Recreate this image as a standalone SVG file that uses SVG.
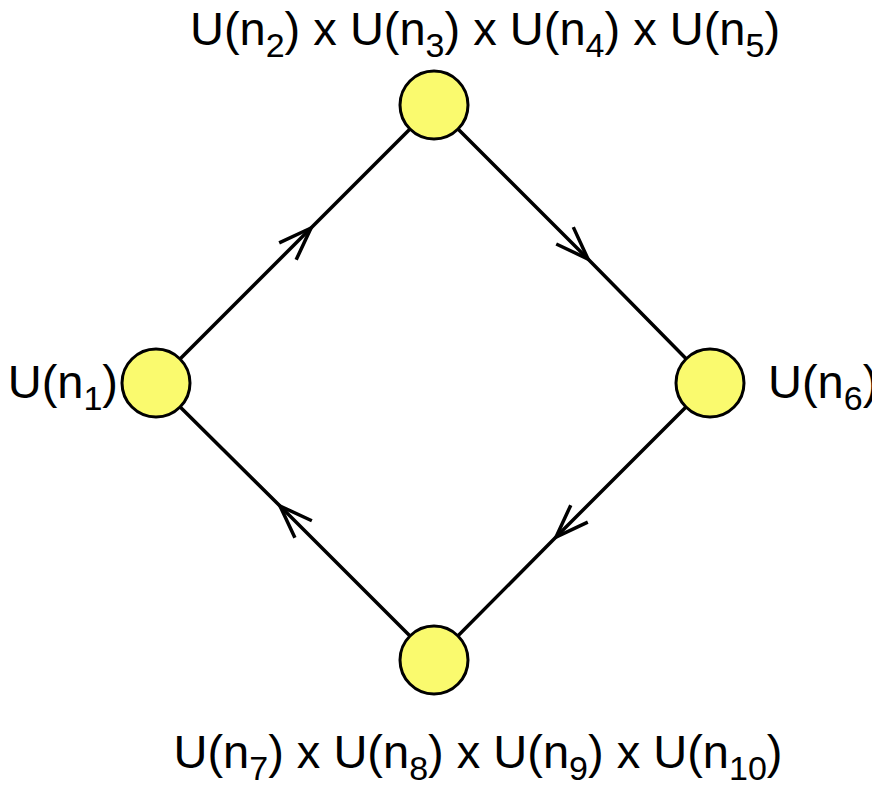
<svg xmlns="http://www.w3.org/2000/svg" width="872" height="799" viewBox="0 0 872 799">
<style>
.n{fill:#fafa6e;stroke:#000;stroke-width:3}
.e{fill:none;stroke:#000;stroke-width:3.5;marker-mid:url(#a)}
text{font-family:"Liberation Sans",Arial,sans-serif;font-size:47px;fill:#000}
.s{font-size:34px}
</style>
<defs><marker id="a" markerUnits="userSpaceOnUse" orient="auto" markerWidth="40" markerHeight="30" refX="0" refY="0" viewBox="-36 -15 40 30" overflow="visible"><path d="M-33,-12 L0,0 L-33,12" fill="none" stroke="#000" stroke-width="3.5"/></marker></defs>
<g id="edges">
<polyline class="e" points="156,383 311,228 434,105"/>
<polyline class="e" points="434,105 588,259 710,383"/>
<polyline class="e" points="710,383 556,537 434,660"/>
<polyline class="e" points="434,660 280,506 156,383"/>
</g>
<g id="top"><circle class="n" cx="434" cy="105" r="34"/><text x="485" y="45" text-anchor="middle">U(n<tspan class="s" dy="12">2</tspan><tspan dy="-12">) x U(n</tspan><tspan class="s" dy="12">3</tspan><tspan dy="-12">) x U(n</tspan><tspan class="s" dy="12">4</tspan><tspan dy="-12">) x U(n</tspan><tspan class="s" dy="12">5</tspan><tspan dy="-12">)</tspan></text></g>
<g id="left"><circle class="n" cx="156" cy="383" r="34"/><text x="118" y="398" text-anchor="end">U(n<tspan class="s" dy="12">1</tspan><tspan dy="-12">)</tspan></text></g>
<g id="right"><circle class="n" cx="710" cy="383" r="34"/><text x="768" y="398">U(n<tspan class="s" dy="12">6</tspan><tspan dy="-12">)</tspan></text></g>
<g id="bottom"><circle class="n" cx="434" cy="660" r="34"/><text x="478" y="768" text-anchor="middle">U(n<tspan class="s" dy="12">7</tspan><tspan dy="-12">) x U(n</tspan><tspan class="s" dy="12">8</tspan><tspan dy="-12">) x U(n</tspan><tspan class="s" dy="12">9</tspan><tspan dy="-12">) x U(n</tspan><tspan class="s" dy="12">10</tspan><tspan dy="-12">)</tspan></text></g>
</svg>
